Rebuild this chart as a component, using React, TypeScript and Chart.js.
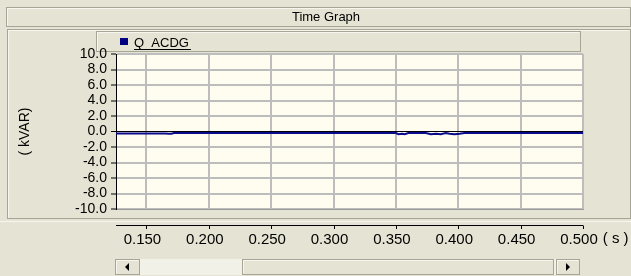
import React, { useEffect, useRef } from "react";
import { Chart, registerables } from "chart.js";

Chart.register(...registerables);

const seriesName = "Q_ACDG";
const chartTitle = "Time Graph";
const yAxisTitle = "( kVAR)";
const xUnit = "( s )";
const xMin = 0.1256;
const xMax = 0.5;
const yMin = -10;
const yMax = 10;

const times = [
  0.1256, 0.135, 0.145, 0.155, 0.165, 0.168, 0.17, 0.172, 0.18, 0.19, 0.2,
  0.21, 0.22, 0.23, 0.24, 0.25, 0.26, 0.27, 0.28, 0.29, 0.3, 0.31, 0.32, 0.33,
  0.34, 0.35, 0.352, 0.355, 0.357, 0.36, 0.37, 0.374, 0.378, 0.382, 0.386,
  0.39, 0.393, 0.397, 0.401, 0.405, 0.41, 0.42, 0.43, 0.44, 0.45, 0.46, 0.47,
  0.48, 0.49, 0.5,
];
const qValues = [
  -0.25, -0.25, -0.25, -0.25, -0.25, -0.3, -0.3, -0.2, -0.2, -0.2, -0.2,
  -0.2, -0.2, -0.2, -0.2, -0.2, -0.2, -0.2, -0.2, -0.2, -0.2, -0.2, -0.2, -0.2,
  -0.2, -0.2, -0.35, -0.3, -0.35, -0.2, -0.2, -0.2, -0.35, -0.3, -0.35,
  -0.2, -0.3, -0.35, -0.3, -0.2, -0.2, -0.2, -0.2, -0.2, -0.2, -0.2, -0.2,
  -0.2, -0.2, -0.2,
];

const BG = "#E5E3D3";
const FONT = "Liberation Sans, Arial, sans-serif";

function raisedRect(ctx: CanvasRenderingContext2D, x: number, y: number, w: number, h: number) {
  ctx.fillStyle = BG;
  ctx.fillRect(x, y, w, h);
  ctx.lineWidth = 1;
  ctx.strokeStyle = "#A7A596";
  ctx.strokeRect(x + 0.5, y + 0.5, w - 1, h - 1);
  ctx.strokeStyle = "#F7F6EE";
  ctx.beginPath();
  ctx.moveTo(x + 1.5, y + h - 1.5);
  ctx.lineTo(x + 1.5, y + 1.5);
  ctx.lineTo(x + w - 1.5, y + 1.5);
  ctx.stroke();
}

const chromePlugin = {
  id: "chrome",
  beforeDraw(chart: any) {
    const ctx = chart.ctx as CanvasRenderingContext2D;
    const W = chart.width;
    const H = chart.height;
    const ca = chart.chartArea;
    ctx.save();
    ctx.fillStyle = BG;
    ctx.fillRect(0, 0, W, H);
    raisedRect(ctx, 6, 7, W - 6, 20);
    ctx.fillStyle = "#000";
    ctx.font = `13px ${FONT}`;
    ctx.textAlign = "center";
    ctx.textBaseline = "middle";
    ctx.fillText(chartTitle, 326, 17.5);
    raisedRect(ctx, 7, 29, W - 7, 190);
    raisedRect(ctx, 96, 31, 485, 21);
    ctx.fillStyle = "#000080";
    ctx.fillRect(120, 38, 8, 7);
    ctx.fillStyle = "#000";
    ctx.font = `13px ${FONT}`;
    ctx.textAlign = "left";
    ctx.textBaseline = "alphabetic";
    ctx.fillText(seriesName, 134, 47);
    const tw = ctx.measureText(seriesName).width;
    ctx.fillRect(134, 49, tw + 2, 1);
    ctx.strokeStyle = "#F7F6EE";
    ctx.beginPath();
    ctx.moveTo(0, 221.5);
    ctx.lineTo(W, 221.5);
    ctx.stroke();
    ctx.fillStyle = "#FFFCF0";
    ctx.fillRect(ca.left, ca.top, ca.right - ca.left, ca.bottom - ca.top);
    ctx.fillStyle = "#F2F1E8";
    ctx.fillRect(115, 259, 465, 16);
    raisedRect(ctx, 115, 259, 25, 16);
    raisedRect(ctx, 242, 259, 312, 16);
    raisedRect(ctx, 556, 259, 24, 16);
    ctx.fillStyle = "#000";
    ctx.beginPath();
    ctx.moveTo(125, 267);
    ctx.lineTo(129, 263);
    ctx.lineTo(129, 271);
    ctx.closePath();
    ctx.fill();
    ctx.beginPath();
    ctx.moveTo(570, 267);
    ctx.lineTo(566, 263);
    ctx.lineTo(566, 271);
    ctx.closePath();
    ctx.fill();
    ctx.restore();
  },
  afterDraw(chart: any) {
    const ctx = chart.ctx as CanvasRenderingContext2D;
    const xs = chart.scales.x;
    const ca = chart.chartArea;
    ctx.save();
    ctx.strokeStyle = "#000";
    ctx.lineWidth = 1;
    ctx.beginPath();
    ctx.moveTo(ca.left, 225.5);
    ctx.lineTo(ca.right, 225.5);
    for (const t of xs.ticks) {
      const px = Math.round(xs.getPixelForValue(t.value)) + 0.5;
      ctx.moveTo(px, 225.5);
      ctx.lineTo(px, 229);
    }
    ctx.stroke();
    const last = xs.ticks[xs.ticks.length - 1];
    const lpx = xs.getPixelForValue(last.value);
    ctx.font = `15px ${FONT}`;
    ctx.fillStyle = "#000";
    ctx.textAlign = "left";
    ctx.textBaseline = "middle";
    const lw = ctx.measureText(Number(last.value).toFixed(3)).width;
    ctx.fillText(xUnit, lpx - 3 + lw / 2 + 4, 239);
    ctx.restore();
  },
};

export default function App() {
  const ref = useRef<HTMLCanvasElement | null>(null);
  useEffect(() => {
    document.body.style.margin = "0";
    const canvas = ref.current;
    if (!canvas) return;
    const chart = new Chart(canvas, {
      type: "line",
      data: {
        datasets: [
          {
            label: seriesName,
            data: times.map((t, i) => ({ x: t, y: qValues[i] })),
            borderColor: "#0A0A8C",
            backgroundColor: "#000080",
            borderWidth: 2,
            pointRadius: 0,
            tension: 0,
          },
        ],
      },
      options: {
        animation: false,
        responsive: false,
        devicePixelRatio: 1,
        layout: { padding: { left: 0, right: 48, top: 54, bottom: 0 } },
        plugins: { legend: { display: false }, title: { display: false }, tooltip: { enabled: false } },
        scales: {
          x: {
            type: "linear",
            min: xMin,
            max: xMax,
            afterFit: (s: any) => {
              s.height = 67;
            },
            border: { display: true, color: "#9C9C9C", width: 1 },
            grid: { color: "#BDBDBD", lineWidth: 2, drawTicks: false },
            ticks: {
              stepSize: 0.05,
              includeBounds: false,
              padding: 22,
              labelOffset: -4,
              color: "#000",
              font: { family: FONT, size: 15 },
              maxRotation: 0,
              autoSkip: false,
              callback: (v: any) => Number(v).toFixed(3),
            },
          },
          y: {
            min: yMin,
            max: yMax,
            afterFit: (s: any) => {
              s.width = 116;
            },
            border: { display: true, color: "#000", width: 1 },
            grid: {
              color: (c: any) => (c.tick && c.tick.value === 0 ? "#000" : "#BDBDBD"),
              lineWidth: (c: any) => (c.tick && c.tick.value === 0 ? 1 : 2),
              tickColor: "#000",
              tickLength: 5,
              tickWidth: 1,
            },
            ticks: {
              stepSize: 2,
              padding: 4,
              autoSkip: false,
              color: "#000",
              font: { family: FONT, size: 14 },
              callback: (v: any) => Number(v).toFixed(1),
            },
            title: {
              display: true,
              text: yAxisTitle,
              color: "#000",
              font: { family: FONT, size: 14 },
              padding: { top: 17, bottom: 0 },
            },
          },
        },
      },
      plugins: [chromePlugin],
    });
    return () => chart.destroy();
  }, []);
  return <canvas ref={ref} width={631} height={276} style={{ display: "block" }} />;
}
